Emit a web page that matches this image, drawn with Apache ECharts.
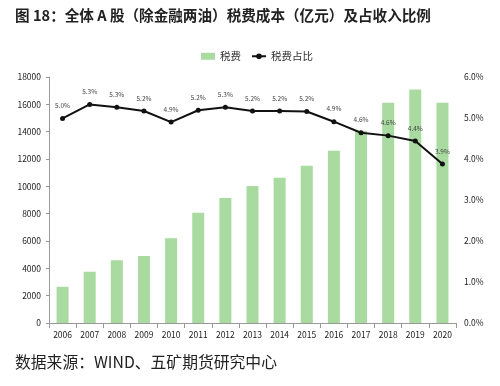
<!DOCTYPE html>
<html><head><meta charset="utf-8">
<script src="https://cdn.jsdelivr.net/npm/echarts@6/dist/echarts.min.js"></script>
<style>html,body{margin:0;padding:0;background:#fff}#c{width:500px;height:386px}</style>
</head><body><div id="c"></div>
<script>
const categories = ['2006','2007','2008','2009','2010','2011','2012','2013','2014','2015','2016','2017','2018','2019','2020'];
const taxValues = [2650,3750,4590,4900,6200,8070,9150,10020,10630,11510,12600,14050,16110,17090,16110];
const taxRatio = [4.99,5.33,5.26,5.17,4.90,5.19,5.26,5.17,5.17,5.16,4.91,4.64,4.57,4.44,3.88];
const leftTicks = [0,2000,4000,6000,8000,10000,12000,14000,16000,18000];
const rightTicks = [0,1,2,3,4,5,6];

const chart = echarts.init(document.getElementById('c'));
const font = '"Noto Sans CJK SC", "Noto Sans", sans-serif';
chart.setOption({
  animation: false,
  graphic: [
    {type:'text', left: 15, top: 8, style:{text:'图 18：全体 A 股（除金融两油）税费成本（亿元）及占收入比例', font:'bold 14.6px '+font, fill:'#222'}},
    {type:'text', left: 15, top: 354, style:{text:'数据来源：WIND、五矿期货研究中心', font:'15.8px '+font, fill:'#222'}}
  ],
  legend: {
    top: 46, left: 196, itemWidth: 14, itemHeight: 7, itemGap: 10,
    textStyle: {fontSize: 10.5, color: '#333', fontFamily: font},
    data: [{name:'税费', icon:'rect'}, {name:'税费占比'}]
  },
  grid: {left: 49, right: 44, top: 77, bottom: 63},
  xAxis: {
    type: 'category', data: categories,
    axisLine: {lineStyle: {color: '#999'}},
    axisTick: {show: true, alignWithLabel: false, lineStyle: {color: '#999'}},
    axisLabel: {fontSize: 8.5, color: '#222', fontFamily: font, margin: 8}
  },
  yAxis: [
    {type: 'value', min: 0, max: 18000, interval: 2000,
     axisLine: {show: true, lineStyle: {color: '#999'}},
     axisTick: {show: true, lineStyle: {color: '#999'}, length: 3},
     splitLine: {show: false},
     axisLabel: {fontSize: 8.5, color: '#222', fontFamily: font, margin: 8,
       formatter: v => leftTicks.includes(v) ? String(v) : ''}},
    {type: 'value', min: 0, max: 6, interval: 1,
     axisLine: {show: false}, axisTick: {show: false},
     splitLine: {show: false},
     axisLabel: {fontSize: 8.5, color: '#222', fontFamily: font, margin: 8,
       formatter: v => rightTicks.includes(v) ? v.toFixed(1) + '%' : ''}}
  ],
  series: [
    {name: '税费', type: 'bar', data: taxValues, barWidth: 12,
     itemStyle: {color: '#a9daa0'}},
    {name: '税费占比', type: 'line', yAxisIndex: 1, data: taxRatio,
     symbol: 'circle', symbolSize: 5,
     lineStyle: {color: '#111', width: 2}, itemStyle: {color: '#111'},
     label: {show: true, position: 'top', distance: 7, fontSize: 6.5, color: '#444', fontFamily: font,
       formatter: p => p.value.toFixed(1) + '%'}}
  ]
});
</script></body></html>
